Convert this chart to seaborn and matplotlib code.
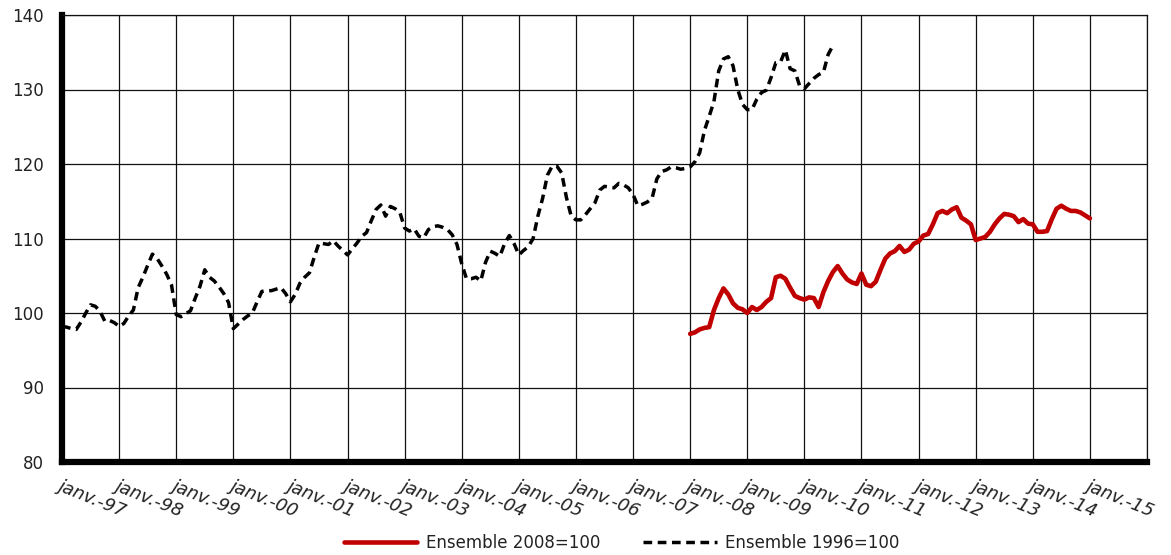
import numpy as np
import pandas as pd
import matplotlib
matplotlib.use("Agg")
import matplotlib.pyplot as plt
import seaborn as sns

# Monthly index values
year_labels = ["janv.-97", "janv.-98", "janv.-99", "janv.-00", "janv.-01",
               "janv.-02", "janv.-03", "janv.-04", "janv.-05", "janv.-06",
               "janv.-07", "janv.-08", "janv.-09", "janv.-10", "janv.-11",
               "janv.-12", "janv.-13", "janv.-14", "janv.-15"]

# Base 1996=100, monthly from January 1997
base_1996 = [
    98.2, 98.1, 97.9, 97.8, 98.8, 100.0, 101.1, 100.9, 100.2, 98.9, 99.0, 98.7,
    98.2, 98.6, 99.6, 100.4, 103.4, 104.8, 106.4, 107.9, 107.3, 106.3, 105.2, 103.8,
    99.8, 99.5, 99.9, 100.3, 102.0, 103.6, 105.8, 104.8, 104.3, 103.5, 102.6, 101.4,
    97.9, 98.5, 99.1, 99.6, 100.0, 101.5, 102.9, 103.0, 103.0, 103.2, 103.4, 102.6,
    101.5, 102.5, 104.0, 104.8, 105.4, 107.5, 109.4, 109.3, 109.2, 109.7, 109.0, 108.4,
    107.8, 108.6, 109.4, 110.3, 110.8, 112.4, 113.9, 114.5, 113.0, 114.3, 114.0, 113.5,
    111.4, 111.0, 111.3, 110.3, 110.1, 111.2, 111.6, 111.7, 111.5, 111.2, 110.5, 109.2,
    106.6, 104.6, 104.6, 104.8, 104.3, 106.8, 108.3, 108.0, 107.6, 109.3, 110.4, 109.3,
    107.8, 108.4, 108.9, 110.0, 113.0, 115.4, 118.5, 119.7, 119.7, 118.8, 115.5, 113.0,
    112.5, 112.5, 113.2, 114.0, 114.8, 116.5, 117.0, 116.9, 116.8, 117.4, 117.2, 116.8,
    115.9, 114.4, 114.6, 114.9, 115.4, 118.0, 119.0, 119.2, 119.6, 119.5, 119.3, 119.4,
    119.6, 120.3, 121.5, 124.5, 126.4, 128.4, 132.5, 134.1, 134.4, 133.2, 130.0, 128.0,
    127.3, 127.3, 128.7, 129.6, 129.9, 131.6, 133.6, 133.7, 135.3, 132.8, 132.5, 130.5,
    130.1, 130.8, 131.5, 132.0, 132.3, 134.7, 135.9,
]

# Base 2008=100, monthly from January 2008 to January 2015
base_2008 = [
    97.2, 97.4, 97.8, 98.0, 98.1, 100.4, 102.0, 103.3, 102.5, 101.3, 100.7, 100.5,
    100.0, 100.8, 100.4, 100.8, 101.5, 102.0, 104.8, 105.0, 104.6, 103.4, 102.3, 102.0,
    101.8, 102.1, 102.0, 100.8, 102.8, 104.3, 105.5, 106.3, 105.3, 104.5, 104.1, 103.9,
    105.3, 103.8, 103.6, 104.2, 105.8, 107.3, 108.0, 108.3, 109.0, 108.2, 108.5, 109.3,
    109.6, 110.4, 110.6, 111.9, 113.4, 113.7, 113.4, 113.9, 114.2, 112.8, 112.4, 111.9,
    109.8, 110.0, 110.2, 110.9, 111.9, 112.7, 113.3, 113.2, 113.0, 112.2, 112.6, 112.0,
    111.9, 110.9, 110.9, 111.0, 112.6, 114.0, 114.4, 114.0, 113.7, 113.7, 113.5, 113.1,
    112.7,
]

start_1996 = 0     # January 1997 (months counted from January 1997)
start_2008 = 132   # January 2008

df_1996 = pd.DataFrame({"mois": np.arange(len(base_1996)) + start_1996,
                        "indice": base_1996})
df_2008 = pd.DataFrame({"mois": np.arange(len(base_2008)) + start_2008,
                        "indice": base_2008})

sns.set_theme(style="white")
plt.rcParams["font.family"] = ["DejaVu Sans"]

W, H = 1171, 555
fig = plt.figure(figsize=(W / 100, H / 100), dpi=100)
ax = fig.add_axes([62 / W, 1 - 462 / H, (1147 - 62) / W, (462 - 15) / H])

sns.lineplot(data=df_2008, x="mois", y="indice", ax=ax, color="#C00000",
             linewidth=3.3, label="Ensemble 2008=100", zorder=4)
sns.lineplot(data=df_1996, x="mois", y="indice", ax=ax, color="black",
             linewidth=2.5, linestyle=(0, (2.5, 1.6)),
             label="Ensemble 1996=100", zorder=3)

ax.set_xlim(0, 228)
ax.set_ylim(80, 140)
ax.set_xticks(np.arange(0, 229, 12))
ax.set_xticklabels(year_labels + [""])
ax.set_yticks(np.arange(80, 141, 10))
ax.set_xlabel("")
ax.set_ylabel("")

ax.grid(True, color="#111111", linewidth=0.9)
ax.set_axisbelow(True)

for side in ["left", "bottom"]:
    ax.spines[side].set_linewidth(4.5)
    ax.spines[side].set_color("black")
for side in ["top", "right"]:
    ax.spines[side].set_linewidth(0.9)
    ax.spines[side].set_color("#111111")

ax.tick_params(axis="y", length=0, pad=13, labelsize=12, labelcolor="#222222")
ax.tick_params(axis="x", length=0, pad=10, labelsize=13, labelcolor="#222222")
for lab in ax.get_xticklabels():
    lab.set_rotation(-22)
    lab.set_rotation_mode("anchor")
    lab.set_ha("left")
    lab.set_va("top")
    lab.set_fontstyle("italic")

handles, labels = ax.get_legend_handles_labels()
ax.legend_.remove()
fig.legend(handles, labels, loc="center", bbox_to_anchor=(0.531, 1 - 543 / H),
           ncol=2, frameon=False, fontsize=12, handlelength=4.4,
           columnspacing=2.6, handletextpad=0.5, labelcolor="#222222")

fig.savefig("out.png", dpi=100)
